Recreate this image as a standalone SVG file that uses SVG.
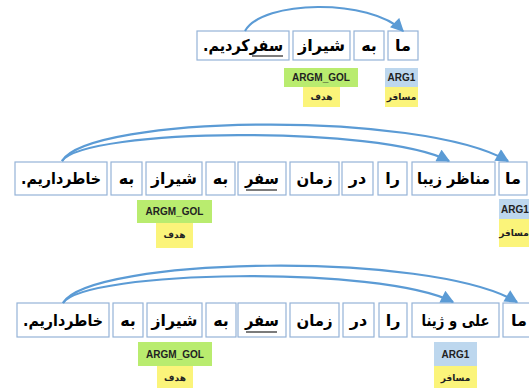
<svg xmlns="http://www.w3.org/2000/svg" width="529" height="388" viewBox="0 0 529 388">
<style>
.box{fill:#fff;stroke:#95b3d7;stroke-width:1.2}
.w{font-family:"DejaVu Sans",sans-serif;font-weight:bold;font-size:16px;fill:#000;text-anchor:middle;direction:rtl}
.gol{fill:#b9ec6f}
.arg{fill:#bdd7ee}
.fa{fill:#fbf47a}
.lab{font-family:"Liberation Sans",Arial,sans-serif;font-size:10px;font-weight:bold;fill:#222;text-anchor:middle}
.fal{font-family:"DejaVu Sans",sans-serif;font-size:9px;font-weight:bold;fill:#222;text-anchor:middle;direction:rtl}
.arc{fill:none;stroke:#5b9bd5;stroke-width:2.2}
.ul{stroke:#333;stroke-width:1.3}
</style>
<defs>
<marker id="ah" viewBox="0 0 10 10" refX="9" refY="5" markerWidth="6.5" markerHeight="6" orient="auto" markerUnits="strokeWidth">
<path d="M0,0 L10,5 L0,10 z" fill="#5b9bd5"/>
</marker>
</defs>
<rect width="529" height="388" fill="#fff"/>

<!-- Row 1 -->
<g id="r1-w1"><rect class="box" x="197" y="31" width="92" height="29"/><text class="w" x="243" y="51" textLength="80" lengthAdjust="spacingAndGlyphs">سفرکردیم.</text><line class="ul" x1="252" y1="56" x2="283" y2="56"/></g>
<g id="r1-w2"><rect class="box" x="293" y="31" width="57" height="29"/><text class="w" x="321.5" y="51" textLength="47" lengthAdjust="spacingAndGlyphs">شیراز</text></g>
<g id="r1-w3"><rect class="box" x="354" y="31" width="30" height="29"/><text class="w" x="369" y="51">به</text></g>
<g id="r1-w4"><rect class="box" x="388" y="31" width="30" height="29"/><text class="w" x="403" y="51">ما</text></g>
<g id="r1-gol"><rect class="gol" x="284" y="68" width="74" height="19"/><text class="lab" x="321" y="81">ARGM_GOL</text><rect class="fa" x="303" y="87" width="37" height="20"/><text class="fal" x="321.5" y="100">هدف</text></g>
<g id="r1-arg1"><rect class="arg" x="385" y="68" width="33" height="19"/><text class="lab" x="401.5" y="81">ARG1</text><rect class="fa" x="385" y="87" width="33" height="20"/><text class="fal" x="401.5" y="100">مسافر</text></g>

<!-- Row 2 -->
<g id="r2-w1"><rect class="box" x="15" y="162" width="92" height="33"/><text class="w" x="61" y="184" textLength="80" lengthAdjust="spacingAndGlyphs">خاطرداریم.</text></g>
<g id="r2-w2"><rect class="box" x="111" y="162" width="31" height="33"/><text class="w" x="126.5" y="184">به</text></g>
<g id="r2-w3"><rect class="box" x="146" y="162" width="56" height="33"/><text class="w" x="174" y="184" textLength="46" lengthAdjust="spacingAndGlyphs">شیراز</text></g>
<g id="r2-w4"><rect class="box" x="206" y="162" width="29" height="33"/><text class="w" x="220.5" y="184">به</text></g>
<g id="r2-w5"><rect class="box" x="238" y="162" width="48" height="33"/><text class="w" x="262" y="184" textLength="34" lengthAdjust="spacingAndGlyphs">سفر</text><line class="ul" x1="246" y1="190" x2="277" y2="190"/></g>
<g id="r2-w6"><rect class="box" x="290" y="162" width="49" height="33"/><text class="w" x="314.5" y="184" textLength="36" lengthAdjust="spacingAndGlyphs">زمان</text></g>
<g id="r2-w7"><rect class="box" x="342" y="162" width="31" height="33"/><text class="w" x="357.5" y="184">در</text></g>
<g id="r2-w8"><rect class="box" x="378" y="162" width="29" height="33"/><text class="w" x="392.5" y="184">را</text></g>
<g id="r2-w9"><rect class="box" x="412" y="162" width="83" height="33"/><text class="w" x="453.5" y="184" textLength="73" lengthAdjust="spacingAndGlyphs">مناظر زیبا</text></g>
<g id="r2-w10"><rect class="box" x="499" y="162" width="28" height="33"/><text class="w" x="513" y="184">ما</text></g>
<g id="r2-gol"><rect class="gol" x="137" y="200" width="75" height="23"/><text class="lab" x="174.5" y="215">ARGM_GOL</text><rect class="fa" x="156" y="223" width="37" height="25"/><text class="fal" x="174.5" y="238">هدف</text></g>
<g id="r2-arg1"><rect class="arg" x="499" y="199" width="30" height="20"/><text class="lab" x="515" y="213">ARG1</text><rect class="fa" x="499" y="219" width="30" height="28"/><text class="fal" x="514" y="236">مسافر</text></g>

<!-- Row 3 -->
<g id="r3-w1"><rect class="box" x="17" y="303" width="92" height="34"/><text class="w" x="63" y="326" textLength="80" lengthAdjust="spacingAndGlyphs">خاطرداریم.</text></g>
<g id="r3-w2"><rect class="box" x="113" y="303" width="30" height="34"/><text class="w" x="128" y="326">به</text></g>
<g id="r3-w3"><rect class="box" x="147" y="303" width="55" height="34"/><text class="w" x="174.5" y="326" textLength="46" lengthAdjust="spacingAndGlyphs">شیراز</text></g>
<g id="r3-w4"><rect class="box" x="206" y="303" width="30" height="34"/><text class="w" x="221" y="326">به</text></g>
<g id="r3-w5"><rect class="box" x="238" y="303" width="48" height="34"/><text class="w" x="262" y="326" textLength="34" lengthAdjust="spacingAndGlyphs">سفر</text><line class="ul" x1="246" y1="332" x2="277" y2="332"/></g>
<g id="r3-w6"><rect class="box" x="290" y="303" width="49" height="34"/><text class="w" x="314.5" y="326" textLength="36" lengthAdjust="spacingAndGlyphs">زمان</text></g>
<g id="r3-w7"><rect class="box" x="343" y="303" width="31" height="34"/><text class="w" x="358.5" y="326">در</text></g>
<g id="r3-w8"><rect class="box" x="379" y="303" width="28" height="34"/><text class="w" x="393" y="326">را</text></g>
<g id="r3-w9"><rect class="box" x="412" y="303" width="87" height="34"/><text class="w" x="455.5" y="326" textLength="68" lengthAdjust="spacingAndGlyphs">علی و ژینا</text></g>
<g id="r3-w10"><rect class="box" x="503" y="303" width="32" height="34"/><text class="w" x="519" y="326">ما</text></g>
<g id="r3-gol"><rect class="gol" x="138" y="342" width="74" height="24"/><text class="lab" x="175" y="358">ARGM_GOL</text><rect class="fa" x="157" y="366" width="36" height="24"/><text class="fal" x="175" y="381">هدف</text></g>
<g id="r3-arg1"><rect class="arg" x="434" y="342" width="43" height="24"/><text class="lab" x="455.5" y="358">ARG1</text><rect class="fa" x="434" y="366" width="43" height="24"/><text class="fal" x="455.5" y="381">مسافر</text></g>

<g id="connectors">
<path class="arc" marker-end="url(#ah)" d="M245,31 C262,0 370,-2 403,31"/>
<path class="arc" marker-end="url(#ah)" d="M62,161 C90,115 420,110 508,161"/>
<path class="arc" marker-end="url(#ah)" d="M62,161 C85,128 380,125 449,161"/>
<path class="arc" marker-end="url(#ah)" d="M63,303 C90,257 430,250 517,302"/>
<path class="arc" marker-end="url(#ah)" d="M63,303 C85,270 380,265 453,302"/>
</g>
</svg>
